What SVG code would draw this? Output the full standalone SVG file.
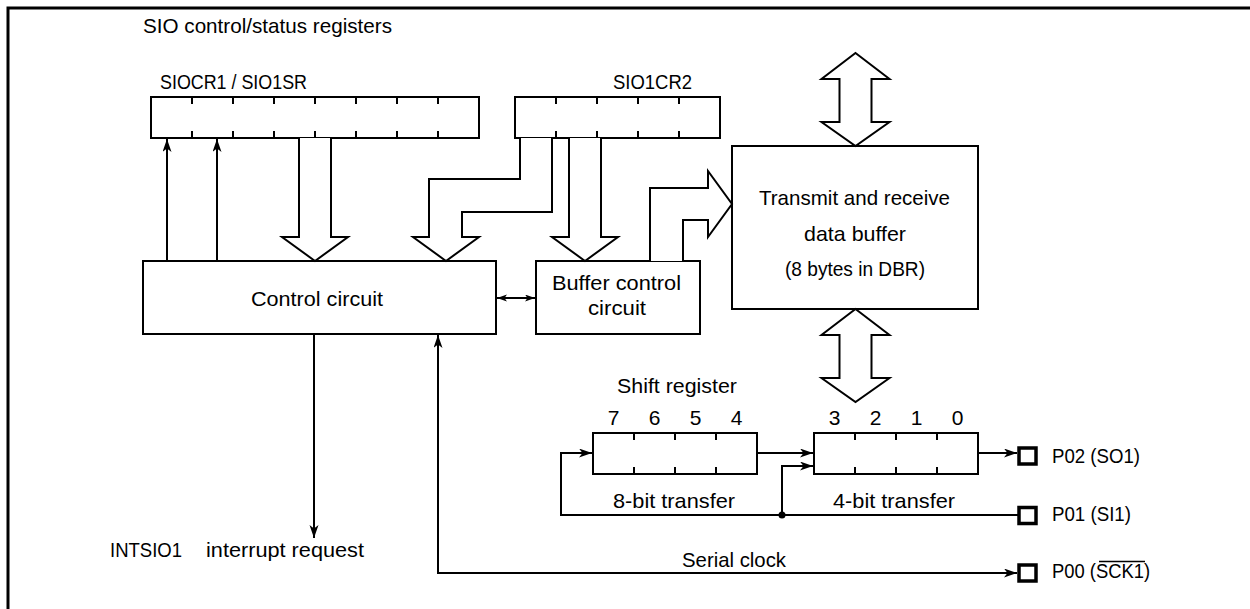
<svg xmlns="http://www.w3.org/2000/svg" width="1250" height="609" viewBox="0 0 1250 609">
<style>
  text{font-family:"Liberation Sans",Arial,sans-serif;font-size:21px;fill:#000}
  .m{text-anchor:middle}
  .box{fill:#fff;stroke:#000;stroke-width:2}
  .ln{fill:none;stroke:#000;stroke-width:2}
  .hol{fill:#fff;stroke:#000;stroke-width:2;stroke-linejoin:miter}
  .pin{fill:#fff;stroke:#000;stroke-width:3.5}
</style>
<defs>
  <marker id="ah" markerUnits="userSpaceOnUse" markerWidth="14" markerHeight="10" refX="13" refY="4.5" orient="auto-start-reverse">
    <path d="M0,0 L13,4.5 L0,9 L3.5,4.5 z" fill="#000"/>
  </marker>
  <marker id="sh" markerUnits="userSpaceOnUse" markerWidth="11" markerHeight="8" refX="10" refY="3.5" orient="auto-start-reverse">
    <path d="M0,0 L10,3.5 L0,7 L2.5,3.5 z" fill="#000"/>
  </marker>
</defs>

<g id="frame">
  <path d="M8,609 V8 H1250" fill="none" stroke="#000" stroke-width="3"/>
</g>

<text x="143" y="33" textLength="249" lengthAdjust="spacingAndGlyphs">SIO control/status registers</text>

<g id="siocr1">
  <text x="160" y="89" textLength="147" lengthAdjust="spacingAndGlyphs">SIOCR1 / SIO1SR</text>
  <rect class="box" x="151" y="97" width="328" height="41"/>
  <path class="ln" d="M192,97v7M233,97v7M274,97v7M315,97v7M356,97v7M397,97v7M438,97v7M192,138v-7M233,138v-7M274,138v-7M315,138v-7M356,138v-7M397,138v-7M438,138v-7"/>
</g>

<g id="sio1cr2">
  <text x="613" y="89" textLength="79" lengthAdjust="spacingAndGlyphs">SIO1CR2</text>
  <rect class="box" x="515" y="97" width="205" height="41"/>
  <path class="ln" d="M556,97v7M597,97v7M638,97v7M679,97v7M556,138v-7M597,138v-7M638,138v-7M679,138v-7"/>
</g>

<g id="buffer">
  <rect class="box" x="732" y="146" width="246" height="163"/>
  <text x="759" y="205" textLength="191" lengthAdjust="spacingAndGlyphs">Transmit and receive</text>
  <text x="804" y="241" textLength="102" lengthAdjust="spacingAndGlyphs">data buffer</text>
  <text x="785" y="276" textLength="140" lengthAdjust="spacingAndGlyphs">(8 bytes in DBR)</text>
</g>

<g id="control">
  <rect class="box" x="143" y="261" width="353" height="73"/>
  <text x="251" y="306" textLength="132" lengthAdjust="spacingAndGlyphs">Control circuit</text>
</g>

<g id="bufctrl">
  <rect class="box" x="536" y="261" width="164" height="73"/>
  <text x="552" y="290" textLength="129" lengthAdjust="spacingAndGlyphs">Buffer control</text>
  <text x="588" y="315" textLength="58" lengthAdjust="spacingAndGlyphs">circuit</text>
</g>

<g id="shiftreg">
  <text x="617" y="393" textLength="120" lengthAdjust="spacingAndGlyphs">Shift register</text>
  <rect class="box" x="593" y="433" width="164" height="41"/>
  <path class="ln" d="M634,433v7M675,433v7M716,433v7M634,474v-7M675,474v-7M716,474v-7"/>
  <rect class="box" x="814" y="433" width="164" height="41"/>
  <path class="ln" d="M855,433v7M896,433v7M937,433v7M855,474v-7M896,474v-7M937,474v-7"/>
  <text class="m" x="613.5" y="425">7</text>
  <text class="m" x="654.5" y="425">6</text>
  <text class="m" x="695.5" y="425">5</text>
  <text class="m" x="736.5" y="425">4</text>
  <text class="m" x="834.5" y="425">3</text>
  <text class="m" x="875.5" y="425">2</text>
  <text class="m" x="916.5" y="425">1</text>
  <text class="m" x="957.5" y="425">0</text>
  <text x="613" y="508" textLength="122" lengthAdjust="spacingAndGlyphs">8-bit transfer</text>
  <text x="833" y="508" textLength="122" lengthAdjust="spacingAndGlyphs">4-bit transfer</text>
</g>

<g id="pins">
  <rect class="pin" x="1019" y="448" width="17" height="16"/>
  <rect class="pin" x="1019" y="507.5" width="17" height="16"/>
  <rect class="pin" x="1019" y="565" width="17" height="16"/>
  <text x="1052" y="463" textLength="88" lengthAdjust="spacingAndGlyphs">P02 (SO1)</text>
  <text x="1052" y="521" textLength="79" lengthAdjust="spacingAndGlyphs">P01 (SI1)</text>
  <text x="1052" y="578" textLength="98" lengthAdjust="spacingAndGlyphs">P00 (SCK1)</text>
  <line x1="1099" y1="561.5" x2="1145" y2="561.5" stroke="#000" stroke-width="1.5"/>
</g>

<g id="connectors">
  <path class="ln" d="M167,261 V139" marker-end="url(#ah)"/>
  <path class="ln" d="M217,261 V139" marker-end="url(#ah)"/>
  <path class="hol" d="M299,138 V237 H282 L315,261 L348,237 H331 V138"/>
  <path class="hol" d="M520,138 V179 H429 V237 H413 L446,261 L479,237 H462 V212 H552 V138"/>
  <path class="hol" d="M569,138 V237 H552 L585,261 L618,237 H601 V138"/>
  <path class="hol" d="M650,261 V188 H708 V171 L732,204 L708,237 V220 H683 V261"/>
  <polygon class="hol" points="855.5,53 889.5,79 871.5,79 871.5,122 889.5,122 855.5,146 821.5,122 839.5,122 839.5,79 821.5,79"/>
  <polygon class="hol" points="855.5,309 889.5,335 871.5,335 871.5,378 889.5,378 855.5,402 821.5,378 839.5,378 839.5,335 821.5,335"/>
  <path class="ln" d="M497,298 H535" marker-start="url(#sh)" marker-end="url(#sh)"/>
  <path class="ln" d="M314,334 V538" marker-end="url(#ah)"/>
  <path class="ln" d="M438,335 V573 H1017" marker-start="url(#ah)" marker-end="url(#ah)"/>
  <path class="ln" d="M757,453 H813" marker-end="url(#ah)"/>
  <path class="ln" d="M978,453 H1017" marker-end="url(#ah)"/>
  <path class="ln" d="M1018,515 H561 V453 H592" marker-end="url(#ah)"/>
  <path class="ln" d="M782,515 V466 H813" marker-end="url(#ah)"/>
  <circle cx="782" cy="515" r="3.5" fill="#000"/>
  <text x="682" y="567" textLength="104" lengthAdjust="spacingAndGlyphs">Serial clock</text>
  <text x="110" y="557" textLength="72" lengthAdjust="spacingAndGlyphs">INTSIO1</text>
  <text x="206" y="557" textLength="158" lengthAdjust="spacingAndGlyphs">interrupt request</text>
</g>
</svg>
